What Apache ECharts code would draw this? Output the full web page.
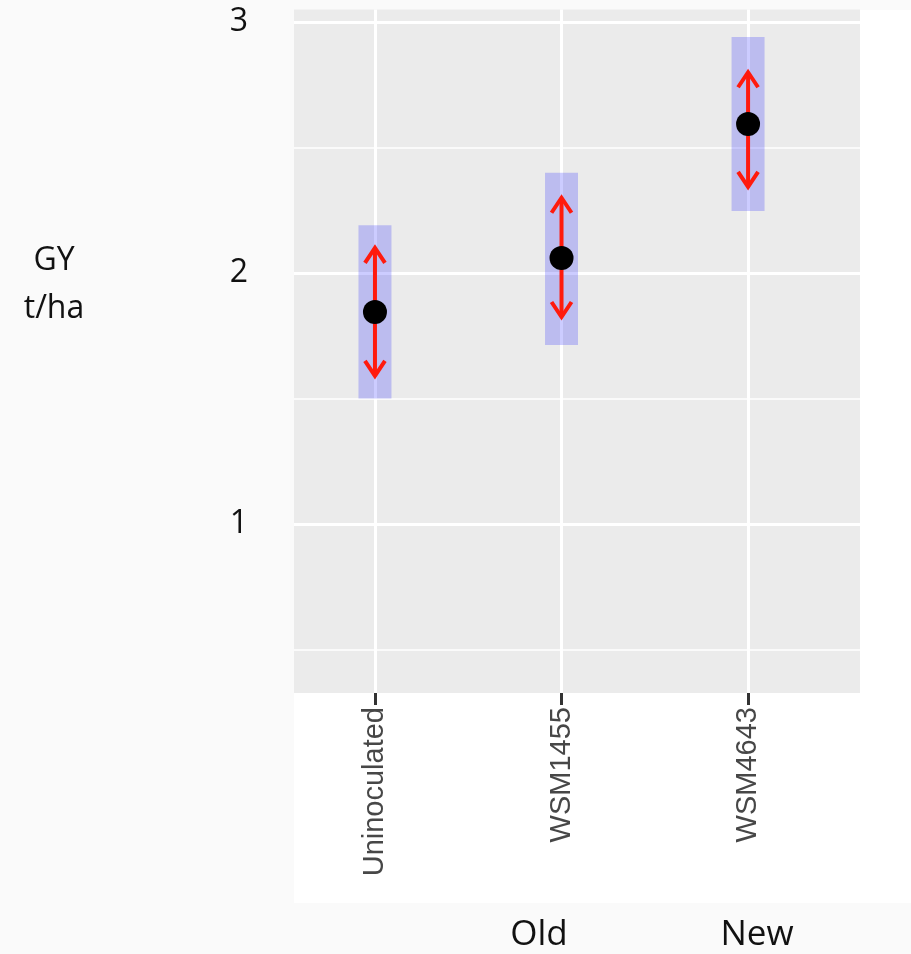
<!DOCTYPE html>
<html>
<head>
<meta charset="utf-8">
<style>
  html, body { margin: 0; padding: 0; background: #fafafa; }
  #chart { width: 911px; height: 954px; }
</style>
<script src="https://cdn.jsdelivr.net/npm/echarts@6/dist/echarts.min.js"></script>
</head>
<body>
<div id="chart"></div>
<script>
// grain yield per inoculant
const categories = ['Uninoculated', 'WSM1455', 'WSM4643'];
const meanYield = [1.845, 2.06, 2.594];
const arrowLow = [1.59, 1.825, 2.343];
const arrowHigh = [2.10, 2.30, 2.80];
const bandLow = [1.50, 1.713, 2.247];
const bandHigh = [2.19, 2.40, 2.94];
const majorTicks = [1, 2, 3];
const minorTicks = [0.5, 1.5, 2.5];
const groupLabels = [{ text: 'Old', pos: 2 }, { text: 'New', pos: 3 }];

const xs = categories.map((_, i) => i + 1);
const bandData = xs.map((x, i) => [x, bandLow[i], bandHigh[i]]);
const arrowData = xs.map((x, i) => [x, arrowLow[i], arrowHigh[i]]);
const dotData = xs.map((x, i) => [x, meanYield[i]]);

const Y_MIN = 0.327, Y_MAX = 3.05;
const X_MIN = 0.566, X_MAX = 3.6;
const RED = '#ff1a0d';

const chart = echarts.init(document.getElementById('chart'), null, { renderer: 'canvas' });

function renderBand(params, api) {
  const x = api.value(0);
  const top = api.coord([x, api.value(2)]);
  const bot = api.coord([x, api.value(1)]);
  return {
    type: 'rect',
    shape: { x: top[0] - 16.5, y: top[1], width: 33, height: bot[1] - top[1] },
    style: { fill: 'rgba(0,0,255,0.2)' },
  };
}

function renderArrow(params, api) {
  const x = api.value(0);
  const top = api.coord([x, api.value(2)]);
  const bot = api.coord([x, api.value(1)]);
  const st = { stroke: RED, lineWidth: 4, fill: 'none', lineJoin: 'miter' };
  return {
    type: 'group',
    children: [
      { type: 'line', shape: { x1: top[0], y1: top[1] + 1, x2: bot[0], y2: bot[1] - 1 }, style: st },
      { type: 'polyline', shape: { points: [[top[0] - 10, top[1] + 15], [top[0], top[1]], [top[0] + 10, top[1] + 15]] }, style: st },
      { type: 'polyline', shape: { points: [[bot[0] - 10, bot[1] - 15], [bot[0], bot[1]], [bot[0] + 10, bot[1] - 15]] }, style: st },
    ],
  };
}

chart.setOption({
  backgroundColor: '#fafafa',
  animation: false,
  graphic: [
    { type: 'rect', z: -10, shape: { x: 294, y: 10, width: 617, height: 893 }, style: { fill: '#ffffff' } },
    {
      type: 'text', x: 54, y: 285,
      style: {
        text: 'GY\nt/ha', font: '32px "Open Sans"', fill: '#111', align: 'center',
        verticalAlign: 'middle', lineHeight: 48,
      },
    },
    ...groupLabels.map((g, i) => ({
      type: 'text', x: [539, 757][i], y: 935,
      style: { text: g.text, font: '35px "Open Sans"', fill: '#111', align: 'center', verticalAlign: 'middle' },
    })),
  ],
  grid: {
    left: 294, right: 51, top: 9.5, bottom: 261,
    show: true, backgroundColor: '#ebebeb', borderWidth: 0,
  },
  xAxis: {
    type: 'value', min: X_MIN, max: X_MAX,
    axisLine: { show: false },
    axisTick: { show: true, customValues: xs, length: 12, lineStyle: { color: '#333', width: 3 } },
    axisLabel: {
      customValues: xs, rotate: 90, margin: 14,
      color: '#474747', fontFamily: 'Liberation Sans', fontSize: 29,
      formatter: (v) => categories[Math.round(v) - 1] || '',
    },
    splitLine: { show: true, lineStyle: { color: '#ffffff', width: 3 } },
  },
  yAxis: [
    {
      type: 'value', min: Y_MIN, max: Y_MAX,
      axisLine: { show: false },
      axisTick: { show: false, customValues: majorTicks },
      axisLabel: {
        customValues: majorTicks, margin: 46,
        color: '#111', fontFamily: 'Open Sans', fontSize: 32,
      },
      splitLine: { show: true, lineStyle: { color: '#ffffff', width: 3 } },
    },
    {
      type: 'value', min: Y_MIN, max: Y_MAX, position: 'left',
      axisLine: { show: false },
      axisTick: { show: false, customValues: minorTicks },
      axisLabel: { show: false, customValues: minorTicks },
      splitLine: { show: true, lineStyle: { color: '#ffffff', width: 1.5 } },
    },
  ],
  series: [
    { type: 'custom', renderItem: renderBand, data: bandData, z: 2 },
    { type: 'custom', renderItem: renderArrow, data: arrowData, z: 3 },
    {
      type: 'scatter', data: dotData, symbol: 'circle', symbolSize: 24, z: 4,
      itemStyle: { color: '#000', opacity: 1 },
    },
  ],
});
</script>
</body>
</html>
